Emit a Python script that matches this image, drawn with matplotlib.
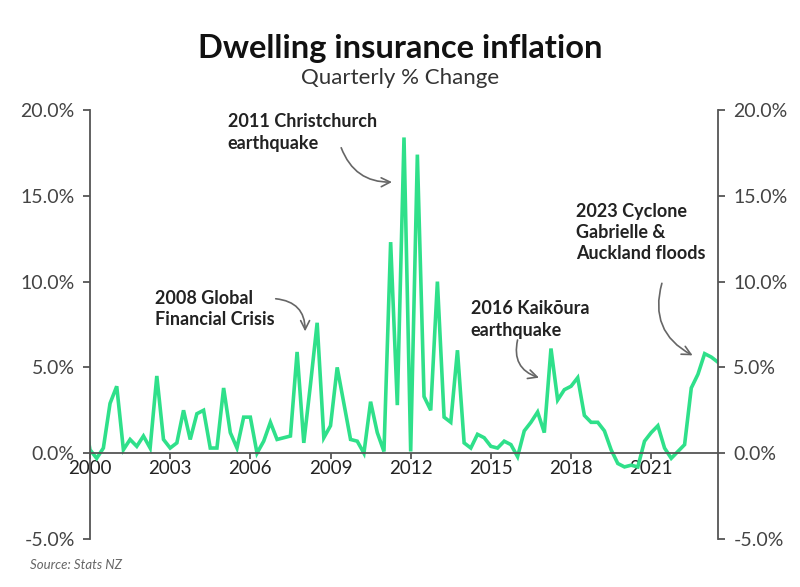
import numpy as np
import matplotlib.pyplot as plt

plt.rcParams['font.family'] = ['Lato', 'DejaVu Sans']

# quarterly % change, starting 1999 Q4 (axis starts at 2000)
start_year = 1999.75
values = [2.5,
          0.2, -0.3, 0.3, 2.9, 3.9, 0.2, 0.8, 0.4, 1.0, 0.3,
          4.5, 0.8, 0.3, 0.6, 2.5, 0.8, 2.3, 2.5, 0.3, 0.3,
          3.8, 1.2, 0.3, 2.1, 2.1, 0.0, 0.7, 1.8, 0.8, 0.9,
          1.0, 5.9, 0.6, 4.0, 7.6, 0.9, 1.6, 5.0, 2.9, 0.8,
          0.7, 0.0, 3.0, 1.2, 0.1, 12.3, 2.8, 18.4, 0.1, 17.4,
          3.3, 2.5, 10.0, 2.1, 1.8, 6.0, 0.6, 0.3, 1.1, 0.9,
          0.4, 0.3, 0.7, 0.5, -0.2, 1.3, 1.8, 2.4, 1.2, 6.1,
          3.1, 3.7, 3.9, 4.4, 2.2, 1.8, 1.8, 1.3, 0.2, -0.6,
          -0.8, -0.7, -0.8, 0.7, 1.2, 1.6, 0.3, -0.3, 0.1, 0.5,
          3.8, 4.6, 5.8, 5.6, 5.3]
years = start_year + np.arange(len(values)) / 4

x_ticks = [2000, 2003, 2006, 2009, 2012, 2015, 2018, 2021]
y_ticks = [-5, 0, 5, 10, 15, 20]

line_color = '#2fe08a'
axis_color = '#555555'
text_color = '#222222'

fig = plt.figure(figsize=(8, 5.87), dpi=100)
ax = fig.add_axes([0.1125, 0.0818, 0.785, 0.7308])
ax.plot(years, values, color=line_color, lw=2.6, solid_joinstyle='miter')
ax.set_xlim(2000, years[-1])
ax.set_ylim(-5, 20)

ax.spines['top'].set_visible(False)
ax.spines['bottom'].set_position(('data', 0))
for s in ['left', 'right', 'bottom']:
    ax.spines[s].set_color(axis_color)
    ax.spines[s].set_linewidth(1.3)

ax.set_yticks(y_ticks)
ax.set_yticklabels(["{:.1f}%".format(v) for v in y_ticks])
ax.set_xticks(x_ticks)
ax.set_xticklabels([str(v) for v in x_ticks])
ax.tick_params(axis='y', left=True, right=True, labelleft=True,
               labelright=True, length=5, width=1.3, color=axis_color,
               labelsize=14, labelcolor='#444444', pad=6)
ax.tick_params(axis='x', length=4, width=1.3, color=axis_color,
               labelsize=13.5, labelcolor='#222222', pad=1)

fig.text(0.5, 0.918, "Dwelling insurance inflation", ha='center',
         va='center', fontsize=23.5, fontweight='bold', color='#111111')
fig.text(0.5, 0.867, "Quarterly % Change", ha='center', va='center',
         fontsize=16, color='#333333')
fig.text(0.038, 0.038, "Source: Stats NZ", ha='left', va='center',
         fontsize=9.5, style='italic', color='#666666')

ann = dict(fontsize=13, fontweight='bold', color=text_color, ha='left',
           va='top', linespacing=1.3)
arrow = dict(arrowstyle='->', color='#666666', lw=1.2,
             shrinkA=0, shrinkB=0, mutation_scale=16)

ax.text(2005.15, 19.8, "2011 Christchurch\nearthquake", **ann)
ax.annotate("", xy=(2011.3, 15.8), xytext=(2009.4, 17.8),
            arrowprops=dict(connectionstyle='arc3,rad=0.35', **arrow))

ax.text(2002.45, 9.5, "2008 Global\nFinancial Crisis", **ann)
ax.annotate("", xy=(2008.05, 7.1), xytext=(2006.95, 9.0),
            arrowprops=dict(connectionstyle='arc3,rad=-0.45', **arrow))

ax.text(2014.25, 8.9, "2016 Kaikōura\nearthquake", **ann)
ax.annotate("", xy=(2016.8, 4.4), xytext=(2016.0, 6.6),
            arrowprops=dict(connectionstyle='arc3,rad=0.45', **arrow))

ax.text(2018.2, 14.6, "2023 Cyclone\nGabrielle &\nAuckland floods", **ann)
ax.annotate("", xy=(2022.55, 5.7), xytext=(2021.4, 9.9),
            arrowprops=dict(connectionstyle='arc3,rad=0.4', **arrow))

fig.savefig("out.png", dpi=100)
